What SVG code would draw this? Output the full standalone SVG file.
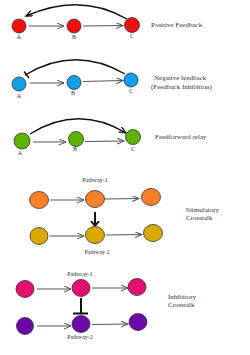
<svg xmlns="http://www.w3.org/2000/svg" width="250" height="355" viewBox="0 0 250 355">
<style>
text{font-family:"Liberation Serif","DejaVu Serif",serif;fill:#333;font-size:7px}
.lbl{font-size:6px;text-anchor:middle}
.nd{stroke:#333;stroke-width:0.8}
.st{stroke:#555;stroke-width:1;fill:none;marker-end:url(#open)}
.cv{stroke:#111;stroke-width:1.4;fill:none}
.red{fill:#f01010}.blue{fill:#0fa0e8}.green{fill:#5cb400}.orange{fill:#f8802a}.gold{fill:#d9a900}.pink{fill:#e2106f}.purple{fill:#6a08a8}
</style>
<defs>
<marker id="open" markerWidth="10" markerHeight="8" refX="7" refY="3" orient="auto" markerUnits="userSpaceOnUse">
<path d="M0,0 L7,3 L0,6" fill="none" stroke="#555" stroke-width="1"/>
</marker>
<marker id="openb" markerWidth="10" markerHeight="8" refX="7" refY="3" orient="auto" markerUnits="userSpaceOnUse">
<path d="M0,0 L7,3 L0,6" fill="none" stroke="#111" stroke-width="1.3"/>
</marker>
<marker id="thick" markerWidth="10" markerHeight="10" refX="5" refY="5" orient="auto" markerUnits="userSpaceOnUse">
<path d="M0,1 L5,5 L0,9" fill="none" stroke="#111" stroke-width="2"/>
</marker>
</defs>

<g id="connectors">
<path class="st" d="M29,26 L64,26"/>
<path class="st" d="M83,26 L123,25.5"/>
<path class="cv" d="M127,19 Q80,-8 26,16" marker-end="url(#openb)"/>
<path class="st" d="M30,83 L64,83"/>
<path class="st" d="M83,81.5 L123,80.5"/>
<path class="cv" d="M125,74 Q75,45 25,75"/>
<path class="cv" d="M24,71.5 L29,78"/>
<path class="st" d="M33,142 L66,142"/>
<path class="st" d="M85,141.5 L124,141"/>
<path class="cv" d="M30,134 Q78,104 126,133" marker-end="url(#openb)"/>
<path class="st" d="M50,200 L84,200"/>
<path class="st" d="M105,199 L139,198.5"/>
<path class="st" d="M50,236 L84,236"/>
<path class="st" d="M106,235 L142,234.5"/>
<path d="M95,212 L95,226" stroke="#111" stroke-width="2" marker-end="url(#thick)"/>
<path class="st" d="M37,289 L71,289"/>
<path class="st" d="M92,288 L128,288"/>
<path class="st" d="M37,326 L71,326"/>
<path class="st" d="M92,324.5 L128,324"/>
<path d="M81,298 L81,313 M73,313.5 L88,313.5" stroke="#111" stroke-width="2" fill="none"/>
</g>

<g id="positive">
<g id="pA"><circle class="nd red" cx="19" cy="26" r="7"/><text class="lbl" x="19" y="39">A</text></g>
<g id="pB"><circle class="nd red" cx="74" cy="26" r="7"/><text class="lbl" x="74" y="39">B</text></g>
<g id="pC"><circle class="nd red" cx="132" cy="25" r="7.5"/><text class="lbl" x="132" y="38">C</text></g>
<text x="151" y="27">Positive  Feedback</text>
</g>

<g id="negative">
<g id="nA"><circle class="nd blue" cx="19" cy="84" r="7"/><text class="lbl" x="19" y="98">A</text></g>
<g id="nB"><circle class="nd blue" cx="74" cy="82.5" r="7"/><text class="lbl" x="73" y="95">B</text></g>
<g id="nC"><circle class="nd blue" cx="131" cy="80" r="7"/><text class="lbl" x="131" y="93">C</text></g>
<text x="154" y="80">Negative feedback</text>
<text x="151" y="89">(Feedback Inhibition)</text>
</g>

<g id="feedforward">
<g id="fA"><circle class="nd green" cx="22" cy="141" r="8"/><text class="lbl" x="20" y="155">A</text></g>
<g id="fB"><circle class="nd green" cx="76" cy="139" r="7.5"/><text class="lbl" x="75" y="151">B</text></g>
<g id="fC"><circle class="nd green" cx="133" cy="137" r="7.5"/><text class="lbl" x="133" y="151">C</text></g>
<text x="155" y="139">Feedforward relay</text>
</g>

<g id="stimulatory">
<g id="s1"><ellipse class="nd orange" cx="39" cy="200" rx="9.5" ry="8.5"/></g>
<g id="s2"><ellipse class="nd orange" cx="95" cy="199" rx="9.5" ry="8.5"/><text class="lbl" x="95" y="182">Pathway-1</text></g>
<g id="s3"><ellipse class="nd orange" cx="151" cy="197" rx="9.5" ry="8.5"/></g>
<g id="s4"><ellipse class="nd gold" cx="39" cy="236" rx="9" ry="8.5"/></g>
<g id="s5"><ellipse class="nd gold" cx="95" cy="235" rx="9.5" ry="8.5"/><text class="lbl" x="97" y="254">Pathway 2</text></g>
<g id="s6"><ellipse class="nd gold" cx="153" cy="233" rx="9.5" ry="8.5"/></g>
<text x="186" y="212">Stimulatory</text>
<text x="186" y="220">Crosstalk</text>
</g>

<g id="inhibitory">
<g id="i1"><ellipse class="nd pink" cx="25" cy="289" rx="9" ry="8.5"/></g>
<g id="i2"><ellipse class="nd pink" cx="81" cy="288" rx="9" ry="8.5"/><text class="lbl" x="80" y="276">Pathway-1</text></g>
<g id="i3"><ellipse class="nd pink" cx="137" cy="287" rx="9" ry="8.5"/></g>
<g id="i4"><ellipse class="nd purple" cx="25" cy="326" rx="8.5" ry="8.5"/></g>
<g id="i5"><ellipse class="nd purple" cx="81" cy="324" rx="9" ry="8.5"/><text class="lbl" x="80" y="339">Pathway-2</text></g>
<g id="i6"><ellipse class="nd purple" cx="138" cy="322" rx="9" ry="8.5"/></g>
<text x="168" y="299">Inhibitory</text>
<text x="168" y="307">Crosstalk</text>
</g>
</svg>
